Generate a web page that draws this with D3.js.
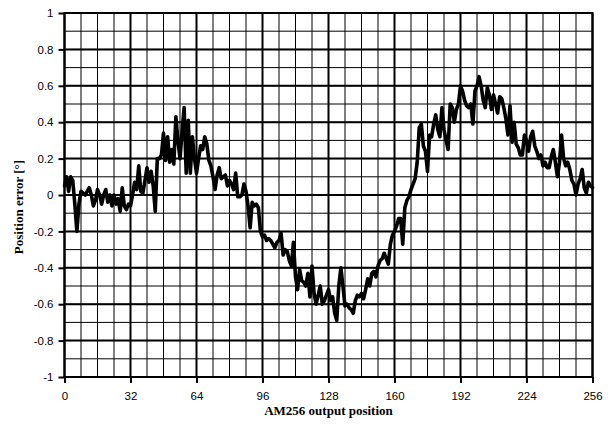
<!DOCTYPE html>
<html>
<head>
<meta charset="utf-8">
<script src="https://cdn.jsdelivr.net/npm/d3@7"></script>
<style>
  html, body { margin: 0; padding: 0; background: #fff; }
  svg { display: block; }
</style>
</head>
<body>
<svg id="chart" width="613" height="425"></svg>
<script>
// Measured position error of the AM256 encoder, one sample per output position
const positions = d3.range(0, 257);
const errorDeg = [
  0.05, 0.10, 0.02, 0.10, 0.08, -0.05, -0.20, -0.05, 0.02, 0.01,
  0.00, 0.02, 0.04, 0.00, -0.06, -0.03, 0.03, 0.00, -0.05, 0.00,
  0.03, -0.04, 0.00, -0.06, 0.00, -0.05, -0.02, -0.09, 0.04, -0.06,
  -0.08, -0.05, -0.06, 0.00, 0.07, 0.03, 0.16, 0.02, 0.01, 0.08,
  0.15, 0.07, 0.13, 0.05, -0.09, 0.20, 0.20, 0.22, 0.34, 0.19,
  0.32, 0.18, 0.25, 0.17, 0.43, 0.30, 0.20, 0.35, 0.48, 0.12,
  0.41, 0.12, 0.32, 0.20, 0.12, 0.20, 0.27, 0.25, 0.32, 0.28,
  0.19, 0.16, 0.10, 0.03, 0.11, 0.15, 0.09, 0.10, 0.11, 0.05,
  0.08, 0.06, 0.03, 0.12, -0.01, -0.01, 0.00, 0.06, 0.02, -0.06,
  -0.18, -0.04, -0.06, -0.05, -0.07, -0.20, -0.23, -0.22, -0.25, -0.24,
  -0.25, -0.27, -0.29, -0.26, -0.25, -0.21, -0.33, -0.30, -0.31, -0.36,
  -0.39, -0.26, -0.45, -0.52, -0.41, -0.47, -0.48, -0.50, -0.43, -0.56,
  -0.39, -0.54, -0.60, -0.55, -0.50, -0.60, -0.58, -0.55, -0.52, -0.58,
  -0.56, -0.65, -0.69, -0.50, -0.40, -0.50, -0.61, -0.60, -0.62, -0.63,
  -0.65, -0.58, -0.55, -0.56, -0.54, -0.57, -0.52, -0.46, -0.50, -0.43,
  -0.42, -0.45, -0.39, -0.36, -0.35, -0.32, -0.35, -0.38, -0.27, -0.22,
  -0.20, -0.17, -0.13, -0.13, -0.27, -0.07, -0.03, -0.01, 0.03, 0.06,
  0.09, 0.18, 0.37, 0.39, 0.27, 0.24, 0.13, 0.33, 0.32, 0.39,
  0.44, 0.36, 0.32, 0.48, 0.36, 0.30, 0.25, 0.50, 0.48, 0.40,
  0.47, 0.50, 0.60, 0.57, 0.52, 0.49, 0.48, 0.50, 0.39, 0.57,
  0.60, 0.65, 0.60, 0.52, 0.48, 0.59, 0.55, 0.47, 0.55, 0.50,
  0.45, 0.54, 0.53, 0.48, 0.42, 0.33, 0.49, 0.29, 0.40, 0.28,
  0.26, 0.22, 0.22, 0.33, 0.30, 0.24, 0.32, 0.35, 0.27, 0.24,
  0.20, 0.22, 0.16, 0.18, 0.15, 0.15, 0.21, 0.25, 0.18, 0.10,
  0.18, 0.33, 0.20, 0.16, 0.18, 0.14, 0.08, 0.06, 0.00, 0.06,
  0.09, 0.14, 0.04, 0.01, 0.07, 0.05, 0.04
];
const xTicks = [0, 32, 64, 96, 128, 160, 192, 224, 256];
const yTicks = [1, 0.8, 0.6, 0.4, 0.2, 0, -0.2, -0.4, -0.6, -0.8, -1];
const xMinor = d3.range(0, 257, 8);
const yMinor = d3.range(-10, 11).map(d => d / 10);
const xTitle = "AM256 output position";
const yTitle = "Position error [°]";

const plot = { left: 64.5, right: 592.5, top: 13, bottom: 377 };
const svg = d3.select("#chart");

const x = d3.scaleLinear().domain([0, 256]).range([plot.left, plot.right]);
const y = d3.scaleLinear().domain([-1, 1]).range([plot.bottom, plot.top]);

// fine grid
const grid = svg.append("g");
grid.selectAll("line.vx").data(xMinor).join("line")
  .attr("x1", d => x(d)).attr("x2", d => x(d))
  .attr("y1", plot.top).attr("y2", plot.bottom)
  .attr("stroke", "#000").attr("stroke-width", 1);
grid.selectAll("line.hy").data(yMinor).join("line")
  .attr("x1", plot.left).attr("x2", plot.right)
  .attr("y1", d => y(d)).attr("y2", d => y(d))
  .attr("stroke", "#000").attr("stroke-width", 1);

// major grid
grid.selectAll("line.mx").data(xTicks).join("line")
  .attr("x1", d => x(d)).attr("x2", d => x(d))
  .attr("y1", plot.top).attr("y2", plot.bottom)
  .attr("stroke", "#000").attr("stroke-width", 2);
grid.selectAll("line.my").data(yTicks).join("line")
  .attr("x1", plot.left).attr("x2", plot.right)
  .attr("y1", d => y(d)).attr("y2", d => y(d))
  .attr("stroke", "#000").attr("stroke-width", 2);

// frame
svg.append("rect")
  .attr("x", plot.left).attr("y", plot.top)
  .attr("width", plot.right - plot.left).attr("height", plot.bottom - plot.top)
  .attr("fill", "none").attr("stroke", "#000").attr("stroke-width", 2);

// axes
const xAxis = svg.append("g")
  .attr("transform", `translate(0,${plot.bottom})`)
  .call(d3.axisBottom(x).tickValues(xTicks).tickSize(6).tickPadding(9).tickFormat(d3.format("d")));
const yAxis = svg.append("g")
  .attr("transform", `translate(${plot.left},0)`)
  .call(d3.axisLeft(y).tickValues(yTicks).tickSize(6).tickPadding(5).tickFormat(d => String(+d.toFixed(1))));
[xAxis, yAxis].forEach(g => {
  g.select(".domain").remove();
  g.selectAll(".tick line").attr("stroke", "#000").attr("stroke-width", 2);
  g.selectAll(".tick text")
    .attr("fill", "#000")
    .style("font-family", "'Liberation Sans', Arial, sans-serif")
    .style("font-size", "11.5px");
});

// error trace
const line = d3.line()
  .x((d, i) => x(positions[i]))
  .y(d => y(d));
svg.append("path")
  .datum(errorDeg)
  .attr("d", line)
  .attr("fill", "none")
  .attr("stroke", "#000")
  .attr("stroke-width", 3.6)
  .attr("stroke-linejoin", "round")
  .attr("stroke-linecap", "round");

// axis titles
svg.append("text")
  .attr("x", (plot.left + plot.right) / 2).attr("y", 415)
  .attr("text-anchor", "middle")
  .style("font-family", "'Liberation Serif', 'Times New Roman', serif")
  .style("font-weight", "bold").style("font-size", "13px")
  .text(xTitle);
svg.append("text")
  .attr("transform", `translate(23,${(plot.top + plot.bottom) / 2 + 12}) rotate(-90)`)
  .attr("text-anchor", "middle")
  .style("font-family", "'Liberation Serif', 'Times New Roman', serif")
  .style("font-weight", "bold").style("font-size", "13px")
  .text(yTitle);
</script>
</body>
</html>
